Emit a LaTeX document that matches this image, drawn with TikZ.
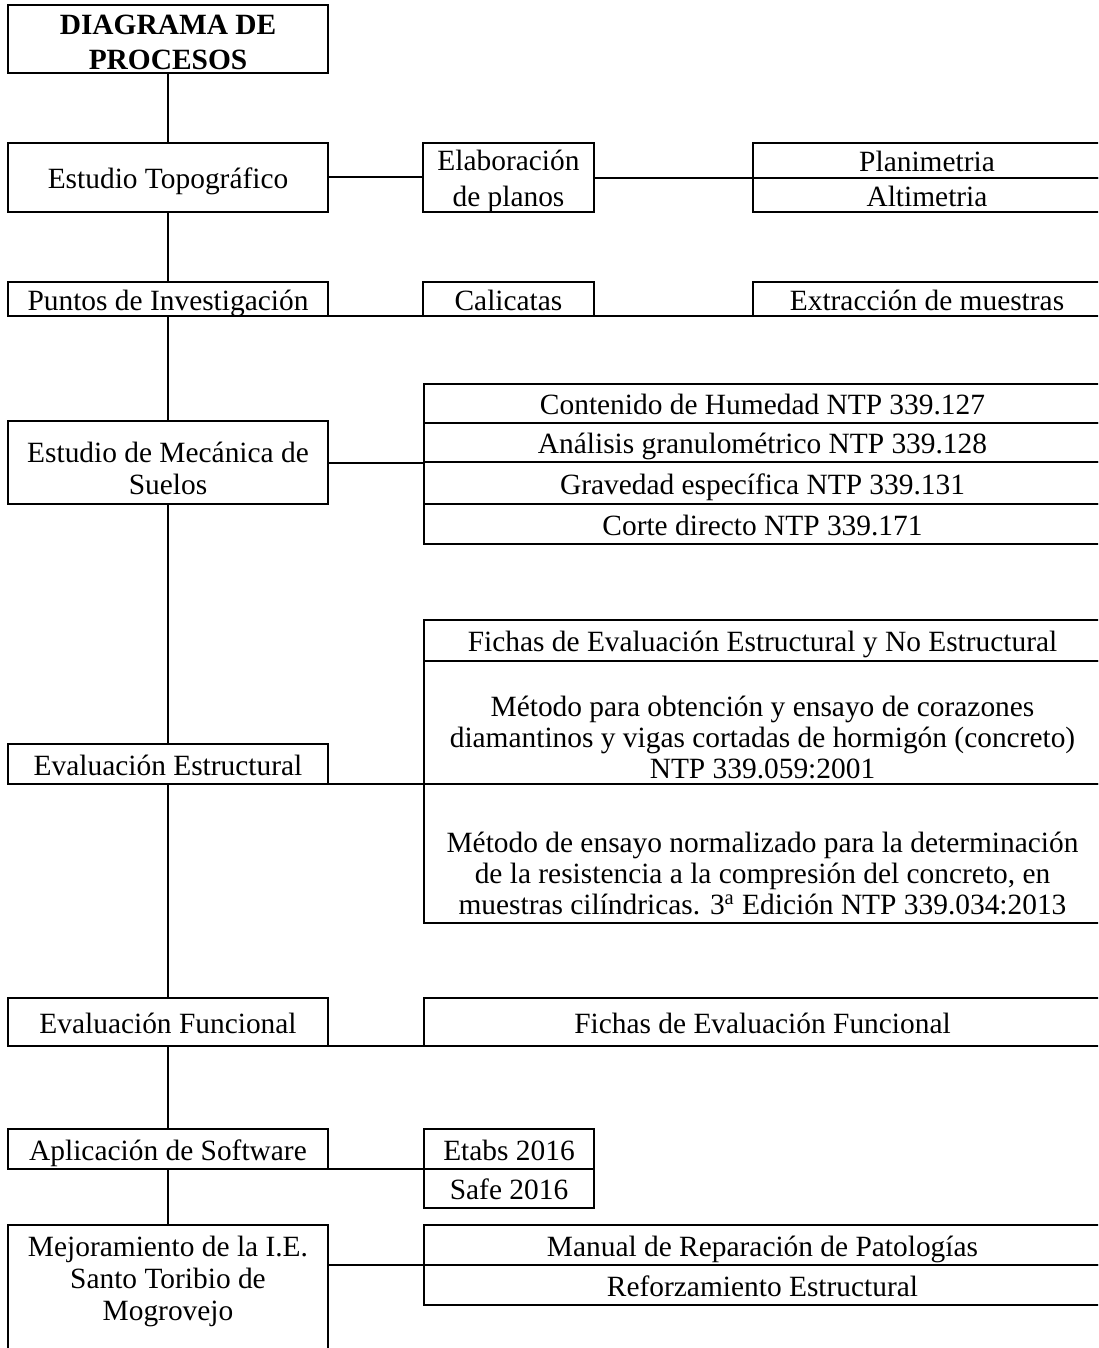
\documentclass[tikz,border=0pt]{standalone}
\usepackage{fontspec}
\setmainfont{Liberation Serif}
\usetikzlibrary{positioning}

\tikzset{
  base/.style={draw, line width=1pt, inner sep=0pt, outer sep=0pt, align=center,
    font=\fontsize{14.7}{15.5}\selectfont},
  caja/.style={base, text height=13.5pt, text depth=2.5pt},
  texto/.style={inner sep=0pt, outer sep=0pt, align=center, font=\fontsize{14.7}{15.5}\selectfont},
  linea/.style={line width=1pt},
}

\begin{document}
\begin{tikzpicture}[x=0.5pt,y=-0.5pt]
\clip (0,0) rectangle (1098,1348);

\node[base,anchor=north west,minimum width=160pt,minimum height=34pt,font=\fontsize{14.7}{17.5}\selectfont\bfseries] (diagrama) at (8,5) {\rule{0pt}{13.5pt}DIAGRAMA DE\\PROCESOS};
\node[caja,anchor=north west,minimum width=160pt,minimum height=34.5pt] (topo) at (8,143) {Estudio Topográfico};
\node[caja,anchor=north west,minimum width=160pt,minimum height=17pt] (puntos) at (8,282) {Puntos de Investigación};
\node[base,anchor=north west,minimum width=160pt,minimum height=41.5pt,font=\fontsize{14.7}{16}\selectfont] (suelos) at (8,421) {\rule{0pt}{16.5pt}Estudio de Mecánica de\\Suelos};
\node[caja,anchor=north west,minimum width=160pt,minimum height=20pt] (estruct) at (8,744) {Evaluación Estructural};
\node[caja,anchor=north west,minimum width=160pt,minimum height=24pt] (funcional) at (8,998) {Evaluación Funcional};
\node[caja,anchor=north west,minimum width=160pt,minimum height=20pt] (software) at (8,1129) {Aplicación de Software};
\node[base,draw=none,anchor=north west,minimum width=160pt,minimum height=54pt,font=\fontsize{14.7}{16}\selectfont] (mejora) at (8,1225) {\rule{0pt}{12.5pt}Mejoramiento de la I.E.\\Santo Toribio de\\Mogrovejo};
\draw[linea] ([yshift=-20pt]mejora.south west) -- (mejora.north west) -- (mejora.north east) -- ([yshift=-20pt]mejora.south east);

\node[base,anchor=north west,minimum width=85.5pt,minimum height=34.5pt,font=\fontsize{14.7}{17.5}\selectfont] (planos) at (423,143) {\rule{0pt}{14pt}Elaboración\\de planos};
\node[caja,anchor=north west,minimum width=174pt,minimum height=17.5pt] (plani) at (753,143) {Planimetria};
\node[caja,minimum width=174pt,minimum height=17pt,below=0pt of plani] (alti) {Altimetria};

\node[caja,anchor=north west,minimum width=85.5pt,minimum height=17pt] (calicatas) at (423,282) {Calicatas};
\node[caja,anchor=north west,minimum width=174pt,minimum height=17pt] (muestras) at (753,282) {Extracción de muestras};

\node[caja,anchor=north west,minimum width=338.5pt,minimum height=19.5pt] (humedad) at (424,384) {Contenido de Humedad NTP 339.127};
\node[caja,minimum width=338.5pt,minimum height=19.5pt,below=0pt of humedad] (granulo) {Análisis granulométrico NTP 339.128};
\node[caja,minimum width=338.5pt,minimum height=21pt,below=0pt of granulo] (gravedad) {Gravedad específica NTP 339.131};
\node[caja,minimum width=338.5pt,minimum height=20pt,below=0pt of gravedad] (corte) {Corte directo NTP 339.171};

\node[caja,anchor=north west,minimum width=338.5pt,minimum height=20.5pt] (fichasest) at (424,620) {Fichas de Evaluación Estructural y No Estructural};
\node[caja,minimum width=338.5pt,minimum height=61.5pt,below=0pt of fichasest] (metodo1) {};
\node[texto,above=2.5pt of metodo1.south] (metodo1txt) {Método para obtención y ensayo de corazones\\diamantinos y vigas cortadas de hormigón (concreto)\\NTP 339.059:2001};
\node[caja,minimum width=338.5pt,minimum height=69.5pt,below=0pt of metodo1] (metodo2) {};
\node[texto,above=4pt of metodo2.south] (metodo2txt) {Método de ensayo normalizado para la determinación\\de la resistencia a la compresión del concreto, en\\muestras cilíndricas. 3\textsuperscript{a} Edición NTP 339.034:2013};

\node[caja,anchor=north west,minimum width=338.5pt,minimum height=24pt] (fichasfun) at (424,998) {Fichas de Evaluación Funcional};

\node[caja,anchor=north west,minimum width=85pt,minimum height=20pt] (etabs) at (424,1129) {Etabs 2016};
\node[caja,minimum width=85pt,minimum height=19.5pt,below=0pt of etabs] (safe) {Safe 2016};

\node[caja,anchor=north west,minimum width=338.5pt,minimum height=20pt] (manual) at (424,1225) {Manual de Reparación de Patologías};
\node[caja,minimum width=338.5pt,minimum height=20pt,below=0pt of manual] (refuerzo) {Reforzamiento Estructural};

\draw[linea] (diagrama.south) -- (topo.north);
\draw[linea] (topo.south) -- (puntos.north);
\draw[linea] (puntos.south) -- (suelos.north);
\draw[linea] (suelos.south) -- (estruct.north);
\draw[linea] (estruct.south) -- (funcional.north);
\draw[linea] (funcional.south) -- (software.north);
\draw[linea] (software.south) -- (mejora.north);

\draw[linea] (topo.east) -- (topo.east -| planos.west);
\draw[linea] (planos.east) -- (planos.east -| plani.west);
\draw[linea] (puntos.south east) -- (calicatas.south west);
\draw[linea] (calicatas.south east) -- (muestras.south west);
\draw[linea] (suelos.east) -- (suelos.east -| granulo.west);
\draw[linea] (estruct.south east) -- (metodo1.south west);
\draw[linea] (funcional.south east) -- (fichasfun.south west);
\draw[linea] (software.south east) -- (etabs.south west);
\draw[linea] (manual.south west -| mejora.east) -- (manual.south west);
\end{tikzpicture}
\end{document}
